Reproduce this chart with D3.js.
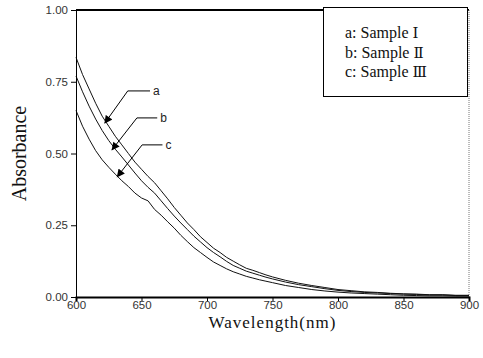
<!DOCTYPE html>
<html>
<head>
<meta charset="utf-8">
<script src="https://cdn.jsdelivr.net/npm/d3@7"></script>
<style>
  body { margin: 0; background: #fff; }
  svg { display: block; }
</style>
</head>
<body>
<svg id="chart" width="483" height="358"></svg>
<script>
// Wavelength grid (nm)
const wavelengths = [600, 605, 610, 615, 620, 625, 630, 635, 640, 645, 650, 655, 660, 665, 670, 675, 680, 685, 690, 695,
  700, 705, 710, 715, 720, 725, 730, 735, 740, 745, 750, 760, 770, 780, 790, 800, 810, 820, 830, 840, 850, 860, 870, 880, 890, 900];

// Absorbance
const sampleA = [0.835, 0.775, 0.725, 0.675, 0.630, 0.595, 0.560, 0.530, 0.500, 0.470, 0.445, 0.420, 0.398, 0.370, 0.342, 0.312, 0.285, 0.258, 0.235, 0.210,
  0.190, 0.170, 0.155, 0.138, 0.125, 0.112, 0.100, 0.093, 0.085, 0.077, 0.070, 0.058, 0.048, 0.040, 0.033, 0.026, 0.022, 0.018, 0.016, 0.013, 0.011, 0.010, 0.008, 0.008, 0.006, 0.006];
const sampleB = [0.770, 0.715, 0.665, 0.620, 0.580, 0.545, 0.515, 0.488, 0.460, 0.432, 0.405, 0.382, 0.362, 0.335, 0.308, 0.282, 0.258, 0.235, 0.212, 0.192,
  0.172, 0.155, 0.140, 0.124, 0.110, 0.100, 0.090, 0.083, 0.076, 0.069, 0.063, 0.052, 0.043, 0.036, 0.029, 0.023, 0.019, 0.016, 0.014, 0.012, 0.010, 0.009, 0.007, 0.007, 0.005, 0.005];
const sampleC = [0.650, 0.595, 0.550, 0.510, 0.478, 0.452, 0.428, 0.405, 0.385, 0.362, 0.345, 0.335, 0.305, 0.285, 0.262, 0.240, 0.215, 0.193, 0.172, 0.155,
  0.138, 0.122, 0.110, 0.098, 0.088, 0.080, 0.072, 0.066, 0.060, 0.055, 0.050, 0.040, 0.033, 0.026, 0.021, 0.017, 0.014, 0.012, 0.010, 0.008, 0.006, 0.005, 0.004, 0.004, 0.003, 0.003];

const legendLabels = [["a: Sample ", "\u2160"], ["b: Sample ", "\u2161"], ["c: Sample ", "\u2162"]];
const xTicks = [600, 650, 700, 750, 800, 850, 900];
const yTicks = [0, 0.25, 0.5, 0.75, 1.0];

// Arrow annotations, in data units: label line start/end, arrow tip
const callouts = [
  { key: "a", x0: 639.5, x1: 656.5, y: 0.718, tipX: 622, tipY: 0.606 },
  { key: "b", x0: 646.5, x1: 662, y: 0.624, tipX: 627.5, tipY: 0.513 },
  { key: "c", x0: 650.5, x1: 666, y: 0.530, tipX: 631.5, tipY: 0.419 }
];

const margin = { top: 10, right: 14, bottom: 61, left: 76 };
const width = 483, height = 358;

const svg = d3.select("#chart");

const x = d3.scaleLinear().domain([600, 900]).range([margin.left, width - margin.right]);
const y = d3.scaleLinear().domain([0, 1]).range([height - margin.bottom, margin.top]);

svg.append("defs").append("marker")
  .attr("id", "head")
  .attr("viewBox", "0 0 10 10")
  .attr("refX", 9).attr("refY", 5)
  .attr("markerWidth", 9).attr("markerHeight", 8)
  .attr("markerUnits", "userSpaceOnUse")
  .attr("orient", "auto")
  .append("path")
  .attr("d", "M0,0 L10,5 L0,10 Z")
  .attr("fill", "#000");

// frame: top bold, right dotted
svg.append("line")
  .attr("x1", x(600)).attr("x2", x(900))
  .attr("y1", y(1)).attr("y2", y(1))
  .attr("stroke", "#000").attr("stroke-width", 2);
svg.append("line")
  .attr("x1", x(900)).attr("x2", x(900))
  .attr("y1", y(1)).attr("y2", y(0))
  .attr("stroke", "#777").attr("stroke-width", 1).attr("stroke-dasharray", "1,1");

// series lines
const series = [sampleA, sampleB, sampleC];
const line = d3.line()
  .x((d, i) => x(wavelengths[i]))
  .y(d => y(d));

svg.selectAll("path.spec")
  .data(series)
  .enter()
  .append("path")
  .attr("class", "spec")
  .attr("d", d => line(d))
  .attr("fill", "none")
  .attr("stroke", "#111")
  .attr("stroke-width", 1);

// axes
const xAxis = svg.append("g")
  .attr("transform", `translate(0,${y(0)})`)
  .call(d3.axisBottom(x).tickValues(xTicks).tickSize(4).tickPadding(0).tickFormat(d3.format("d")));
xAxis.select(".domain").attr("stroke-width", 2);

const yAxis = svg.append("g")
  .attr("transform", `translate(${x(600)},0)`)
  .call(d3.axisLeft(y).tickValues(yTicks).tickSize(5).tickPadding(3).tickFormat(d3.format(".2f")));

[xAxis, yAxis].forEach(g => {
  g.selectAll("text")
    .attr("font-family", "Liberation Sans, Arial, sans-serif")
    .attr("font-size", 11.5)
    .attr("fill", "#333");
  g.select(".domain").attr("stroke", "#000");
});

// callouts
callouts.forEach(c => {
  svg.append("line")
    .attr("x1", x(c.x0)).attr("x2", x(c.x1))
    .attr("y1", y(c.y)).attr("y2", y(c.y))
    .attr("stroke", "#000").attr("stroke-width", 1);
  svg.append("line")
    .attr("x1", x(c.x0)).attr("y1", y(c.y))
    .attr("x2", x(c.tipX)).attr("y2", y(c.tipY))
    .attr("stroke", "#000").attr("stroke-width", 1)
    .attr("marker-end", "url(#head)");
  svg.append("text")
    .attr("x", x(c.x1) + 3)
    .attr("y", y(c.y) + 4)
    .attr("font-family", "Liberation Sans, Arial, sans-serif")
    .attr("font-size", 12)
    .attr("fill", "#222")
    .text(c.key);
});

// legend
const legend = svg.append("g");
legend.append("rect")
  .attr("x", 323.5).attr("y", 7.5)
  .attr("width", 144).attr("height", 89)
  .attr("fill", "#fff").attr("stroke", "#000");
const rows = legend.selectAll("text")
  .data(legendLabels)
  .enter()
  .append("text")
  .attr("x", 345)
  .attr("y", (d, i) => 38 + i * 19.5)
  .attr("font-family", "Liberation Serif, Times New Roman, serif")
  .attr("font-size", 16)
  .attr("fill", "#111");
rows.append("tspan").text(d => d[0]);
rows.append("tspan")
  .attr("font-family", "DejaVu Serif, serif")
  .attr("font-size", 15)
  .text(d => d[1]);

// axis titles
svg.append("text")
  .attr("x", (x(600) + x(900)) / 2)
  .attr("y", 328)
  .attr("text-anchor", "middle")
  .attr("font-family", "Liberation Serif, Times New Roman, serif")
  .attr("font-size", 17)
  .attr("letter-spacing", 1)
  .attr("fill", "#111")
  .text("Wavelength(nm)");

svg.append("text")
  .attr("transform", `translate(26,${(y(0) + y(1)) / 2}) rotate(-90)`)
  .attr("text-anchor", "middle")
  .attr("font-family", "Liberation Serif, Times New Roman, serif")
  .attr("font-size", 20)
  .attr("fill", "#111")
  .text("Absorbance");
</script>
</body>
</html>
